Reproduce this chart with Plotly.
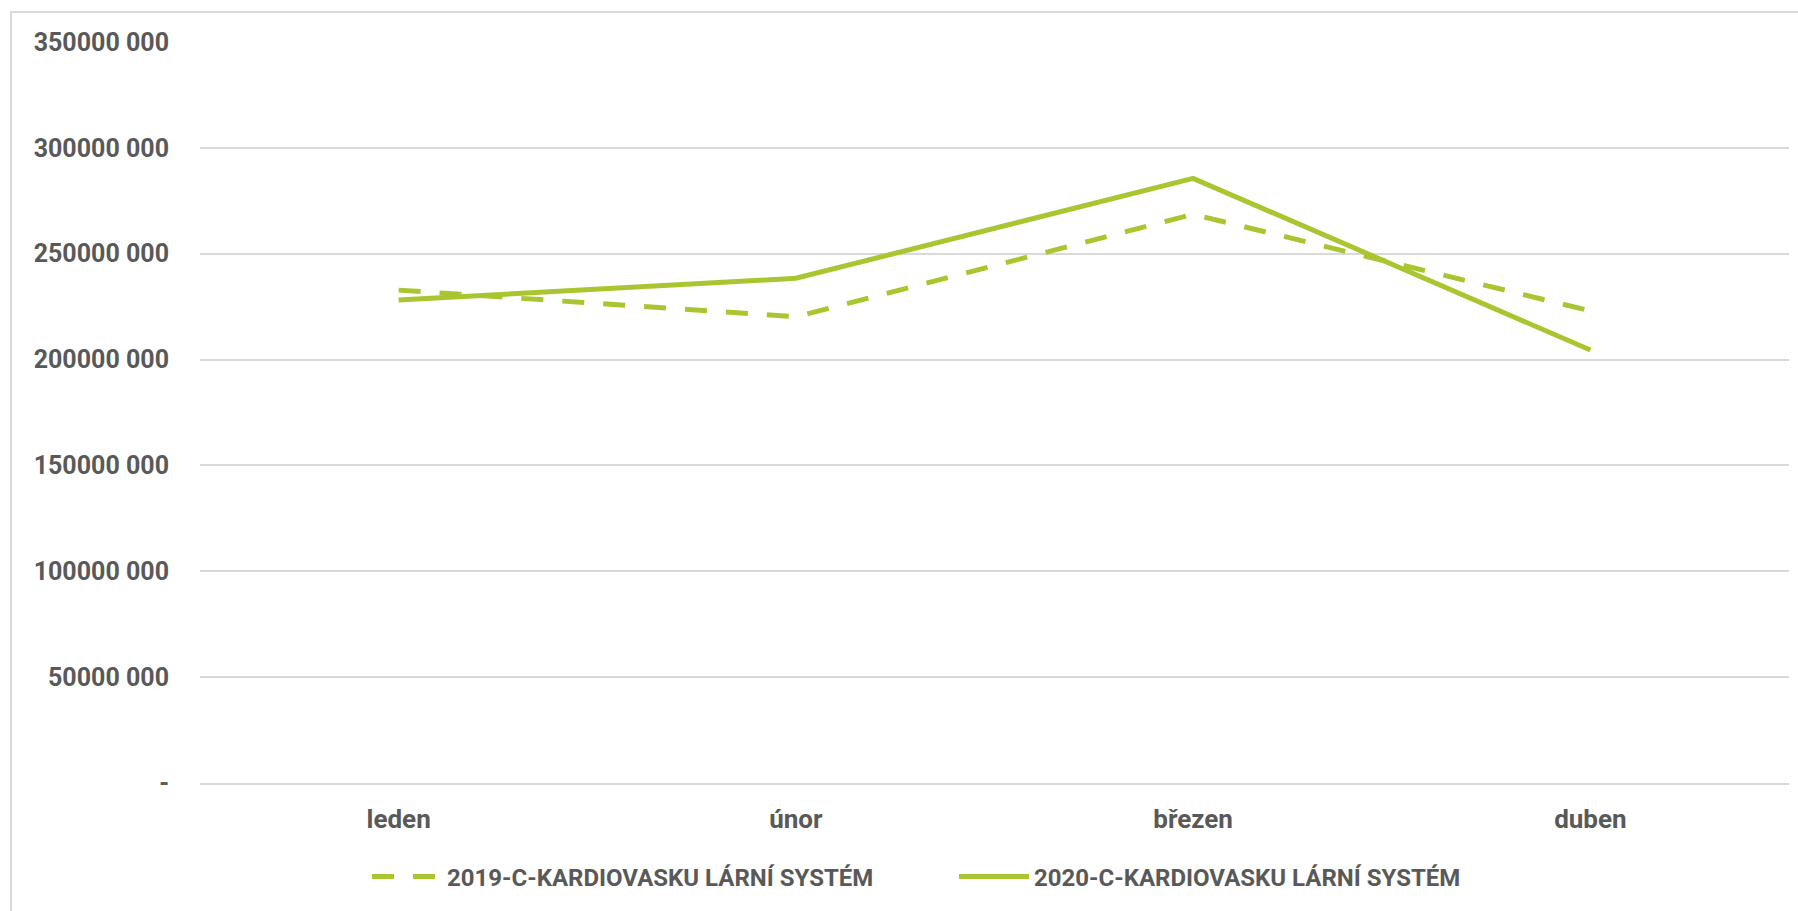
import plotly.graph_objects as go

# Monthly totals (CZK) for the cardiovascular system group
months = ["leden", "únor", "březen", "duben"]
values_2019 = [232_800_000, 220_200_000, 268_600_000, 223_000_000]
values_2020 = [228_100_000, 238_400_000, 285_600_000, 204_500_000]

name_2019 = "2019-C-KARDIOVASKU LÁRNÍ SYSTÉM"
name_2020 = "2020-C-KARDIOVASKU LÁRNÍ SYSTÉM"

y_tick_vals = [0, 50_000_000, 100_000_000, 150_000_000, 200_000_000,
               250_000_000, 300_000_000, 350_000_000]
y_tick_text = ["-", "50000 000", "100000 000", "150000 000", "200000 000",
               "250000 000", "300000 000", "350000 000"]

LINE_COLOR = "#A9C630"
TEXT_COLOR = "#595959"
GRID_COLOR = "#D9D9D9"
FONT = "Roboto, 'Open Sans', sans-serif"

fig = go.Figure()
fig.add_trace(go.Scatter(
    x=months, y=values_2019, name=name_2019, mode="lines",
    line=dict(color=LINE_COLOR, width=5, dash="22px,19px"),
))
fig.add_trace(go.Scatter(
    x=months, y=values_2020, name=name_2020, mode="lines",
    line=dict(color=LINE_COLOR, width=5),
))

W, H = 1798, 911
L, R, T, B = 200, 9, 42, 128
pw, ph = W - L - R, H - T - B

# light frame around the chart area (left and top edges visible)
fig.add_shape(
    type="rect", xref="paper", yref="paper",
    x0=(11 - L) / pw, x1=1.2, y0=-0.5, y1=1 + (T - 12) / ph,
    line=dict(color=GRID_COLOR, width=2), fillcolor="rgba(0,0,0,0)",
    layer="below",
)

fig.update_layout(
    width=W, height=H,
    margin=dict(l=L, r=R, t=T, b=B),
    paper_bgcolor="white", plot_bgcolor="white",
    font=dict(family=FONT, color=TEXT_COLOR, size=24, weight="bold"),
    showlegend=True,
    legend=dict(
        orientation="h", x=(373 - L - 6) / pw, xanchor="left",
        y=-(877 - (H - B)) / ph, yanchor="middle",
        font=dict(family=FONT, size=24, color=TEXT_COLOR, weight="bold"),
        itemwidth=70, entrywidth=584 - 70 - 12, traceorder="normal",
        bgcolor="rgba(0,0,0,0)",
    ),
    xaxis=dict(
        type="category", range=[-0.5, 3.5],
        showgrid=False, showline=True, linecolor=GRID_COLOR, linewidth=2,
        ticks="", ticklabelstandoff=12, zeroline=False,
        tickfont=dict(family=FONT, size=26, color=TEXT_COLOR, weight="bold"),
    ),
    yaxis=dict(
        range=[0, 350_000_000], tickvals=y_tick_vals, ticktext=y_tick_text,
        showgrid=True, gridcolor=GRID_COLOR, gridwidth=2,
        zeroline=False, showline=False, ticks="", ticklabelstandoff=30,
        tickfont=dict(family=FONT, size=25, color=TEXT_COLOR, weight="bold"),
    ),
)

fig.write_html("out.html")
